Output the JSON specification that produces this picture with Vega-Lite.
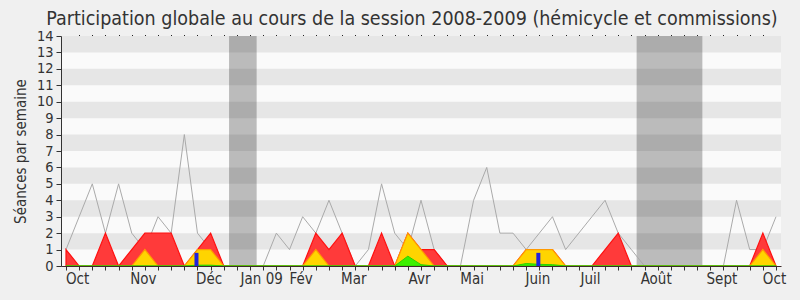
{
  "$schema": "https://vega.github.io/schema/vega-lite/v6.json",
  "autosize": "none",
  "width": 720,
  "height": 230,
  "padding": {"left": 61, "top": 36, "right": 19, "bottom": 34},
  "background": "#f0f0f0",
  "title": {
    "text": "Participation globale au cours de la session 2008-2009 (hémicycle et commissions)",
    "font": "DejaVu Sans Condensed, DejaVu Sans",
    "fontSize": 19.5,
    "fontWeight": "normal",
    "color": "#333333",
    "anchor": "middle",
    "frame": "group",
    "dx": -9,
    "dy": 6,
    "offset": 5
  },
  "config": {
    "view": {"fill": "#fafafa", "stroke": null},
    "axis": {
      "labelFont": "DejaVu Sans Condensed, DejaVu Sans",
      "titleFont": "DejaVu Sans Condensed, DejaVu Sans",
      "labelColor": "#333333",
      "titleColor": "#333333",
      "grid": false
    }
  },
  "datasets": {
    "weeks": [
      {"w": 0, "total": 1, "red": 1, "yellow": 0, "green": 0},
      {"w": 1, "total": 3, "red": 0, "yellow": 0, "green": 0},
      {"w": 2, "total": 5, "red": 0, "yellow": 0, "green": 0},
      {"w": 3, "total": 2, "red": 2, "yellow": 0, "green": 0},
      {"w": 4, "total": 5, "red": 0, "yellow": 0, "green": 0},
      {"w": 5, "total": 2, "red": 1, "yellow": 0, "green": 0},
      {"w": 6, "total": 1, "red": 2, "yellow": 1, "green": 0},
      {"w": 7, "total": 3, "red": 2, "yellow": 0, "green": 0},
      {"w": 8, "total": 2, "red": 2, "yellow": 0, "green": 0},
      {"w": 9, "total": 8, "red": 0, "yellow": 0, "green": 0},
      {"w": 10, "total": 2, "red": 1, "yellow": 1, "green": 0.05},
      {"w": 11, "total": 1, "red": 2, "yellow": 1, "green": 0.05},
      {"w": 12, "total": 0, "red": 0, "yellow": 0, "green": 0},
      {"w": 13, "total": 0, "red": 0, "yellow": 0, "green": 0},
      {"w": 14, "total": 0, "red": 0, "yellow": 0, "green": 0},
      {"w": 15, "total": 0, "red": 0, "yellow": 0, "green": 0},
      {"w": 16, "total": 2, "red": 0, "yellow": 0, "green": 0},
      {"w": 17, "total": 1, "red": 0, "yellow": 0, "green": 0},
      {"w": 18, "total": 3, "red": 0, "yellow": 0, "green": 0},
      {"w": 19, "total": 2, "red": 2, "yellow": 1, "green": 0},
      {"w": 20, "total": 4, "red": 1, "yellow": 0, "green": 0},
      {"w": 21, "total": 2, "red": 2, "yellow": 0, "green": 0},
      {"w": 22, "total": 0, "red": 0, "yellow": 0, "green": 0},
      {"w": 23, "total": 1, "red": 0, "yellow": 0, "green": 0},
      {"w": 24, "total": 5, "red": 2, "yellow": 0, "green": 0},
      {"w": 25, "total": 2, "red": 0, "yellow": 0, "green": 0},
      {"w": 26, "total": 1, "red": 2, "yellow": 2, "green": 0.6},
      {"w": 27, "total": 4, "red": 1, "yellow": 1, "green": 0.08},
      {"w": 28, "total": 1, "red": 1, "yellow": 0, "green": 0},
      {"w": 29, "total": 0, "red": 0, "yellow": 0, "green": 0},
      {"w": 30, "total": 0, "red": 0, "yellow": 0, "green": 0},
      {"w": 31, "total": 4, "red": 0, "yellow": 0, "green": 0},
      {"w": 32, "total": 6, "red": 0, "yellow": 0, "green": 0},
      {"w": 33, "total": 2, "red": 0, "yellow": 0, "green": 0},
      {"w": 34, "total": 2, "red": 0, "yellow": 0, "green": 0},
      {"w": 35, "total": 1, "red": 1, "yellow": 1, "green": 0.15},
      {"w": 36, "total": 2, "red": 1, "yellow": 1, "green": 0.1},
      {"w": 37, "total": 3, "red": 1, "yellow": 1, "green": 0.08},
      {"w": 38, "total": 1, "red": 0, "yellow": 0, "green": 0},
      {"w": 39, "total": 2, "red": 0, "yellow": 0, "green": 0},
      {"w": 40, "total": 3, "red": 0, "yellow": 0, "green": 0},
      {"w": 41, "total": 4, "red": 1, "yellow": 0, "green": 0},
      {"w": 42, "total": 2, "red": 2, "yellow": 0, "green": 0},
      {"w": 43, "total": 1, "red": 0, "yellow": 0, "green": 0},
      {"w": 44, "total": 0, "red": 0, "yellow": 0, "green": 0},
      {"w": 45, "total": 0, "red": 0, "yellow": 0, "green": 0},
      {"w": 46, "total": 0, "red": 0, "yellow": 0, "green": 0},
      {"w": 47, "total": 0, "red": 0, "yellow": 0, "green": 0},
      {"w": 48, "total": 0, "red": 0, "yellow": 0, "green": 0},
      {"w": 49, "total": 0, "red": 0, "yellow": 0, "green": 0},
      {"w": 50, "total": 0, "red": 0, "yellow": 0, "green": 0},
      {"w": 51, "total": 4, "red": 0, "yellow": 0, "green": 0},
      {"w": 52, "total": 1, "red": 0, "yellow": 0, "green": 0},
      {"w": 53, "total": 1, "red": 2, "yellow": 1, "green": 0},
      {"w": 54, "total": 3, "red": 0, "yellow": 0, "green": 0}
    ],
    "stripes": [
      {"lo": 1, "hi": 2}, {"lo": 3, "hi": 4}, {"lo": 5, "hi": 6},
      {"lo": 7, "hi": 8}, {"lo": 9, "hi": 10}, {"lo": 11, "hi": 12},
      {"lo": 13, "hi": 14}
    ],
    "vacances": [
      {"start": 12.4, "end": 14.5},
      {"start": 43.4, "end": 48.4}
    ],
    "blue": [
      {"w": 10, "v": 0.8},
      {"w": 36, "v": 0.8}
    ]
  },
  "resolve": {"axis": {"x": "independent", "y": "independent"}},
  "layer": [
    {
      "data": {"name": "stripes"},
      "mark": {"type": "rect", "fill": "#e6e6e6"},
      "encoding": {
        "y": {"field": "lo", "type": "quantitative", "scale": {"domain": [0, 14], "nice": false, "zero": true}, "axis": null},
        "y2": {"field": "hi"}
      }
    },
    {
      "data": {"name": "vacances"},
      "mark": {"type": "rect", "fill": "#000000", "opacity": 0.25},
      "encoding": {
        "x": {"field": "start", "type": "quantitative", "scale": {"domain": [0, 54], "nice": false, "zero": false}, "axis": null},
        "x2": {"field": "end"}
      }
    },
    {
      "data": {"name": "weeks"},
      "mark": {"type": "line", "color": "#aaaaaa", "strokeWidth": 1},
      "encoding": {
        "x": {"field": "w", "type": "quantitative", "axis": null},
        "y": {"field": "total", "type": "quantitative", "axis": null}
      }
    },
    {
      "data": {"name": "weeks"},
      "mark": {"type": "area", "fill": "#ff3a3a", "stroke": "#ff1010", "strokeWidth": 1.2},
      "encoding": {
        "x": {"field": "w", "type": "quantitative", "axis": null},
        "y": {"field": "red", "type": "quantitative", "axis": null}
      }
    },
    {
      "data": {"name": "weeks"},
      "mark": {"type": "area", "fill": "#ffd400", "stroke": "#ff9a00", "strokeWidth": 1.2},
      "encoding": {
        "x": {"field": "w", "type": "quantitative", "axis": null},
        "y": {"field": "yellow", "type": "quantitative", "axis": null}
      }
    },
    {
      "data": {"name": "weeks"},
      "mark": {"type": "area", "fill": "#3cf000", "stroke": "#2ad000", "strokeWidth": 1},
      "encoding": {
        "x": {"field": "w", "type": "quantitative", "axis": null},
        "y": {"field": "green", "type": "quantitative", "axis": null}
      }
    },
    {
      "data": {"name": "blue"},
      "mark": {"type": "bar", "color": "#2222dd", "size": 4, "xOffset": -1},
      "encoding": {
        "x": {"field": "w", "type": "quantitative", "axis": null},
        "y": {"field": "v", "type": "quantitative", "axis": null}
      }
    },
    {
      "data": {"name": "weeks"},
      "mark": {"type": "point", "opacity": 0},
      "encoding": {
        "x": {
          "field": "w", "type": "quantitative",
          "axis": {
            "orient": "bottom",
            "title": null,
            "values": [0,1,2,3,4,5,6,7,8,9,10,11,12,13,14,15,16,17,18,19,20,21,22,23,24,25,26,27,28,29,30,31,32,33,34,35,36,37,38,39,40,41,42,43,44,45,46,47,48,49,50,51,52,53,54],
            "labelExpr": "datum.value == 1 ? 'Oct' : datum.value == 6 ? 'Nov' : datum.value == 11 ? 'Déc' : datum.value == 15 ? 'Jan 09' : datum.value == 18 ? 'Fév' : datum.value == 22 ? 'Mar' : datum.value == 27 ? 'Avr' : datum.value == 31 ? 'Mai' : datum.value == 36 ? 'Juin' : datum.value == 40 ? 'Juil' : datum.value == 45 ? 'Août' : datum.value == 50 ? 'Sept' : datum.value == 54 ? 'Oct' : ''",
            "labelFontSize": 15,
            "labelOverlap": false,
            "labelFlush": false,
            "labelPadding": 1,
            "labelOffset": -2,
            "tickSize": 4,
            "tickColor": "#333333",
            "domainColor": "#3d2a2a",
            "domainWidth": 1.2,
            "zindex": 1
          }
        },
        "y": {
          "field": "total", "type": "quantitative",
          "axis": {
            "title": "Séances par semaine",
            "titleFontSize": 15,
            "titleFontWeight": "normal",
            "titlePadding": 8,
            "values": [0,1,2,3,4,5,6,7,8,9,10,11,12,13,14],
            "labelFontSize": 14.5,
            "labelPadding": 3,
            "tickSize": 5,
            "tickColor": "#333333",
            "domainColor": "#333333",
            "zindex": 1
          }
        }
      }
    },
    {
      "data": {"name": "weeks"},
      "mark": {"type": "point", "opacity": 0},
      "encoding": {
        "x": {
          "field": "w", "type": "quantitative",
          "axis": {
            "orient": "top",
            "title": null,
            "values": [1,2,3,4,5,6,7,8,9,10,11,12,13,14,15,16,17,18,19,20,21,22,23,24,25,26,27,28,29,30,31,32,33,34,35,36,37,38,39,40,41,42,43,44,45,46,47,48,49,50,51,52,53],
            "labels": false,
            "domain": false,
            "tickSize": 1.5,
            "tickColor": "#222222"
          }
        },
        "y": {"field": "total", "type": "quantitative", "axis": null}
      }
    }
  ]
}
